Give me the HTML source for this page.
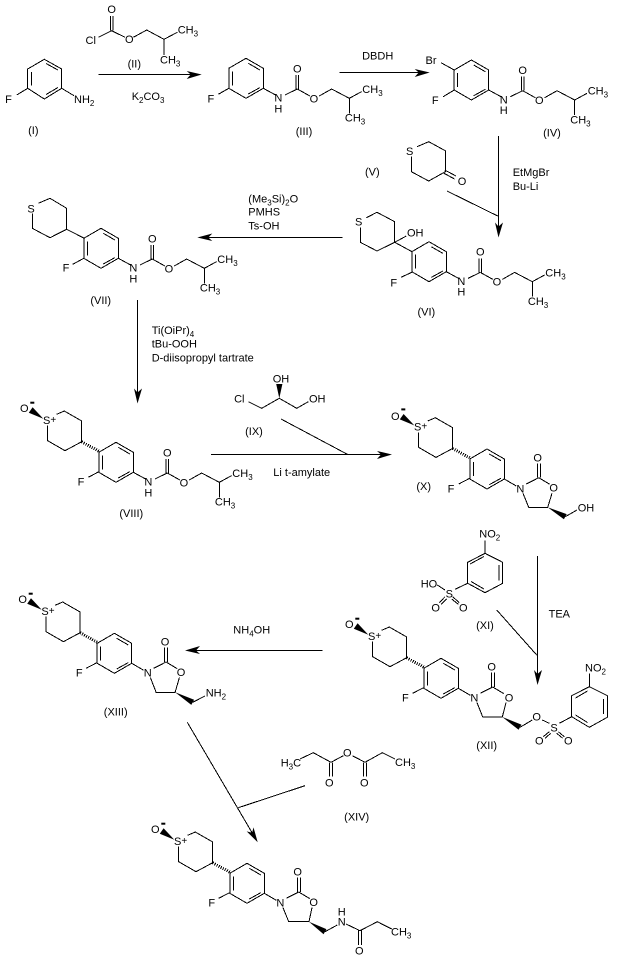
<!DOCTYPE html>
<html>
<head>
<meta charset="utf-8">
<style>
html,body{margin:0;padding:0;background:#fff;width:617px;height:963px;overflow:hidden}
svg{display:block}
path.b{fill:none;stroke:#000;stroke-width:1;shape-rendering:crispEdges}
path.f{fill:#000;stroke:none}
path.h{fill:none;stroke:#000;stroke-width:3;stroke-dasharray:1 1.3;shape-rendering:crispEdges}
text{font-family:"Liberation Sans",sans-serif;font-size:11px;fill:#000}
text.m{text-anchor:middle}
tspan.s{font-size:8px}
</style>
</head>
<body>
<svg width="617" height="963" viewBox="0 0 617 963" xmlns="http://www.w3.org/2000/svg">

<!-- I -->
<path class="b" d="M61.7 88.3V69L44.3 59.3L27.7 69V88.3L44.3 99ZM31.5 72V85.5M46 63.5L58 70M46 94.5L58 87.5M16.7 95L27.7 88.3M61.7 88.3L74 95.7"/>
<text class="m" x="8.5" y="103">F</text>
<text x="74" y="103">NH<tspan class="s" dy="3">2</tspan></text>
<text class="m" x="33.3" y="134">(I)</text>

<!-- II -->
<path class="b" d="M110.3 16V30.7M113.2 16V30.7M98.3 37.3L111.7 30.7L125 37.3M133.3 37.3L146.7 30L164 39.3L177.3 32.3M164 39.3V55"/>
<text class="m" x="111.7" y="13">O</text>
<text class="m" x="90.7" y="44">Cl</text>
<text class="m" x="129.3" y="43">O</text>
<text x="177.7" y="33.3">CH<tspan class="s" dy="3">3</tspan></text>
<text x="160" y="63.3">CH<tspan class="s" dy="3">3</tspan></text>
<text class="m" x="134.3" y="67.3">(II)</text>

<!-- arrow 1 -->
<path class="b" d="M98.3 74.5H196"/>
<path class="f" d="M201.7 74.5L186.7 71L190.7 74.5L186.7 79Z"/>
<text x="131.7" y="100">K<tspan class="s" dy="3">2</tspan><tspan dy="-3">CO</tspan><tspan class="s" dy="3">3</tspan></text>

<!-- III -->
<g transform="translate(263.3,88.3)">
<path class="b" d="M0 0V-20L-17.3-30L-34.5-20V0L-17.3 10ZM-31-17V-3M-15-25L-3.4-18.3M-15 5.7L-3.4-.7"/>
<path class="b" d="M0 0L12.3 6.7M21.6 6.7L34 .7M32.6 .7V-13.3M35.4 .7V-13.3M34 .7L46.6 7.7M56 7.7L68.3 .7L86 10L98.3 3.3M86 10V25M-45 6L-34.5 0"/>
<text class="m" x="15" y="13.3">N</text><text class="m" x="15" y="24">H</text>
<text class="m" x="34" y="-16">O</text><text class="m" x="50.6" y="14">O</text>
<text x="99" y="4.7">CH<tspan class="s" dy="3">3</tspan></text>
<text x="81.6" y="33.3">CH<tspan class="s" dy="3">3</tspan></text>
<text class="m" x="-52.5" y="14">F</text>
<text class="m" x="40.7" y="46.7">(III)</text>
</g>

<!-- arrow 2 -->
<path class="b" d="M339.3 72.5H424"/>
<path class="f" d="M429.7 72.5L414.7 69L418.7 72.5L414.7 77Z"/>
<text class="m" x="377.7" y="59.3">DBDH</text>

<!-- IV -->
<g transform="translate(488.7,90)">
<path class="b" d="M0 0V-20L-17.3-30L-34.5-20V0L-17.3 10ZM-31-17V-3M-15-25L-3.4-18.3M-15 5.7L-3.4-.7"/>
<path class="b" d="M0 0L12.3 6.7M21.6 6.7L34 .7M32.6 .7V-13.3M35.4 .7V-13.3M34 .7L46.6 7.7M56 7.7L68.3 .7L86 10L98.3 3.3M86 10V25M-45.5 6.7L-34.5 0M-47.7-27.3L-34.5-20"/>
<text class="m" x="15" y="13.3">N</text><text class="m" x="15" y="24">H</text>
<text class="m" x="34" y="-16">O</text><text class="m" x="50.6" y="14">O</text>
<text x="99" y="4.7">CH<tspan class="s" dy="3">3</tspan></text>
<text x="81.6" y="33.3">CH<tspan class="s" dy="3">3</tspan></text>
<text class="m" x="-53.4" y="14">F</text>
<text class="m" x="-57.7" y="-26">Br</text>
<text class="m" x="63.3" y="46.7">(IV)</text>
</g>

<!-- V -->
<path class="b" d="M417 146.7L428.7 141.7L445.3 150.7V171.7L428.7 181L411.3 171.7V156.7M444.7 170L456 176M443.5 173L454.5 179"/>
<text class="m" x="409.7" y="155">S</text>
<text class="m" x="462" y="185">O</text>
<text class="m" x="372.3" y="175.7">(V)</text>

<!-- arrow 3 -->
<path class="b" d="M498.5 136V232M447 191L497.7 216"/>
<path class="f" d="M498.5 237.5L495 222.5L498.5 226.5L503 222.5Z"/>
<text x="512.7" y="176">EtMgBr</text>
<text x="512.7" y="190">Bu-Li</text>

<!-- VI -->
<path class="b" d="M366.3 217.7L377 212.3L394.7 221.7V242.3L377 251L360.3 242.3V227.3M394.7 242.3L406.3 236M394.7 242.3L412 251.7"/>
<text class="m" x="358.7" y="225.7">S</text>
<text x="407" y="236.3">OH</text>
<g transform="translate(446.3,271.7)">
<path class="b" d="M0 0V-20L-17.3-30L-34.5-20V0L-17.3 10ZM-31-17V-3M-15-25L-3.4-18.3M-15 5.7L-3.4-.7"/>
<path class="b" d="M0 0L12.3 6.7M21.6 6.7L34 .7M32.6 .7V-13.3M35.4 .7V-13.3M34 .7L46.6 7.7M56 7.7L68.3 .7L86 10L98.3 3.3M86 10V25M-45.3 5.6L-34.5 .6"/>
<text class="m" x="15" y="13.3">N</text><text class="m" x="15" y="24">H</text>
<text class="m" x="34" y="-16">O</text><text class="m" x="50.6" y="14">O</text>
<text x="99" y="4.7">CH<tspan class="s" dy="3">3</tspan></text>
<text x="81.6" y="33.3">CH<tspan class="s" dy="3">3</tspan></text>
<text class="m" x="-52.6" y="14.6">F</text>
<text class="m" x="-20" y="44">(VI)</text>
</g>

<!-- arrow VI to VII -->
<path class="b" d="M342.7 237.5H203"/>
<path class="f" d="M197.3 237.5L212.3 233.5L208.3 237.5L212.3 241Z"/>
<text x="248.3" y="202.3">(Me<tspan class="s" dy="3">3</tspan><tspan dy="-3">Si)</tspan><tspan class="s" dy="3">2</tspan><tspan dy="-3">O</tspan></text>
<text x="248.3" y="215.7">PMHS</text>
<text x="248.3" y="229.7">Ts-OH</text>

<!-- VII -->
<path class="b" d="M38.3 203.3L50 198.3L66.7 208.3V229.3L50 237.7L32.3 228.3V213.3M66.7 229.3L84.3 238.3"/>
<text class="m" x="31" y="212.3">S</text>
<g transform="translate(118.3,258.3)">
<path class="b" d="M0 0V-20L-17.3-30L-34.5-20V0L-17.3 10ZM-31-17V-3M-15-25L-3.4-18.3M-15 5.7L-3.4-.7"/>
<path class="b" d="M0 0L12.3 6.7M21.6 6.7L34 .7M32.6 .7V-13.3M35.4 .7V-13.3M34 .7L46.6 7.7M56 7.7L68.3 .7L86 10L98.3 3.3M86 10V25M-45.6 6L-34.5 0"/>
<text class="m" x="15" y="13.3">N</text><text class="m" x="15" y="24">H</text>
<text class="m" x="34" y="-16">O</text><text class="m" x="50.6" y="14">O</text>
<text x="99" y="4.7">CH<tspan class="s" dy="3">3</tspan></text>
<text x="81.6" y="33.3">CH<tspan class="s" dy="3">3</tspan></text>
<text class="m" x="-52.3" y="13.4">F</text>
<text class="m" x="-17.6" y="45.7">(VII)</text>
</g>

<!-- arrow VII to VIII -->
<path class="b" d="M137.5 300V398"/>
<path class="f" d="M137.5 403.5L134 388.5L137.5 392.5L142 388.5Z"/>
<text x="151.7" y="334">Ti(OiPr)<tspan class="s" dy="3">4</tspan></text>
<text x="151.7" y="347.3">tBu-OOH</text>
<text x="151.7" y="361.3">D-diisopropyl tartrate</text>

<!-- VIII -->
<g transform="translate(133.3,472.3)">
<path class="b" d="M0 0V-20L-17.3-30L-34.5-20V0L-17.3 10ZM-31-17V-3M-15-25L-3.4-18.3M-15 5.7L-3.4-.7"/>
<path class="b" d="M-76.6-58L-69-61.3L-51.6-51.3V-30.6L-68.3-21.6L-85.6-31.6V-46.6"/>
<path class="f" d="M-90-53.6L-104.5-59.6L-100.7-65Z"/>
<rect x="-103" y="-70.6" width="4" height="2" fill="#000"/>
<path class="h" d="M-51.6-30.6L-34.3-21"/>
<text class="m" x="-109" y="-60.5">O</text><text class="m" x="-86.6" y="-48.3">S</text><text class="m" x="-80" y="-49.5" style="font-size:10px">+</text>
<path class="b" d="M0 0L12.3 6.7M21.6 6.7L34 .7M32.6 .7V-13.3M35.4 .7V-13.3M34 .7L46.6 7.7M56 7.7L68.3 .7L86 10L98.3 3.3M86 10V25M-45 5L-34.5-.6"/>
<text class="m" x="15" y="13.3">N</text><text class="m" x="15" y="24">H</text>
<text class="m" x="34" y="-16">O</text><text class="m" x="50.6" y="14">O</text>
<text x="99" y="4.7">CH<tspan class="s" dy="3">3</tspan></text>
<text x="81.6" y="33.3">CH<tspan class="s" dy="3">3</tspan></text>
<text class="m" x="-52.3" y="13">F</text>
<text class="m" x="-2" y="44.7">(VIII)</text>
</g>

<!-- IX -->
<path class="b" d="M248.3 401.7L261.7 408.3L279.3 398.3L296.7 408.3L308.3 401.7"/>
<path class="f" d="M279.3 398.3L276.2 384H282.4Z"/>
<text class="m" x="281" y="382.3">OH</text>
<text class="m" x="239.3" y="402.3">Cl</text>
<text x="309" y="402.3">OH</text>
<text class="m" x="254" y="435">(IX)</text>

<!-- arrow VIII to X -->
<path class="b" d="M211 454.5H386M281 419L347.7 454.5"/>
<path class="f" d="M392 454.5L377 451L381 454.5L377 459Z"/>
<text x="273.3" y="476">Li t-amylate</text>

<!-- X -->
<g transform="translate(504.3,479)">
<path class="b" d="M0 0V-20L-17.3-30L-34.5-20V0L-17.3 10ZM-31-17V-3M-15-25L-3.4-18.3M-15 5.7L-3.4-.7"/>
<path class="b" d="M-76.6-58L-69-61.3L-51.6-51.3V-30.6L-68.3-21.6L-85.6-31.6V-46.6"/>
<path class="f" d="M-90-53.6L-104.5-59.6L-100.7-65Z"/>
<rect x="-103" y="-70.6" width="4" height="2" fill="#000"/>
<path class="h" d="M-51.6-30.6L-34.3-21"/>
<text class="m" x="-109" y="-59">O</text><text class="m" x="-86.6" y="-48.3">S</text><text class="m" x="-80" y="-49.5" style="font-size:10px">+</text>
<path class="b" d="M0 0L12 7M22 5L34.4-1.3M33-1.3V-15.7M36-1.3V-15.7M34.4-1.3L45.4 5.3M47.7 14.3L43.4 28.3H24.4L18.7 14.3M-45.6 5L-34.6-.7M61 37.7L72.7 31"/>
<path class="f" d="M43.4 28.3L62.4 35.1L59.6 40.3Z"/>
<text class="m" x="16" y="13.3">N</text><text class="m" x="33.4" y="-17.7">O</text><text class="m" x="49.4" y="12.7">O</text>
<text x="73.4" y="32.3">OH</text>
<text class="m" x="-53.3" y="13.3">F</text>
<text class="m" x="-80.6" y="11">(X)</text>
</g>

<!-- XI -->
<path class="b" d="M485 553.3L502.7 562.3V583.3L485 592.7L467.7 583.3V562.3ZM470 564L484 556.5M499 565V580.5M471 581.5L484 589M485 553.3V540.7M455 589.3L467.7 583.3M437.3 585L445 590M445 596.7L439.3 602.7M446.7 599L441 604.3M452.7 596.7L459.3 602.7M451.7 599L458.3 604.3"/>
<text x="479.3" y="537.3">NO<tspan class="s" dy="3">2</tspan></text>
<text class="m" x="449.3" y="597.3">S</text>
<text x="420.7" y="587.3">HO</text>
<text class="m" x="435.7" y="611.3">O</text>
<text class="m" x="463.3" y="611.3">O</text>
<text class="m" x="485" y="629">(XI)</text>

<!-- arrow XI to XII -->
<path class="b" d="M537.5 556V679M496.7 610L536.7 655"/>
<path class="f" d="M537.5 685L534 670L537.5 674L542 670Z"/>
<text class="m" x="559.3" y="617.3">TEA</text>

<!-- XII -->
<g transform="translate(458.3,688.3)">
<path class="b" d="M0 0V-20L-17.3-30L-34.5-20V0L-17.3 10ZM-31-17V-3M-15-25L-3.4-18.3M-15 5.7L-3.4-.7"/>
<path class="b" d="M-76.6-58L-69-61.3L-51.6-51.3V-30.6L-68.3-21.6L-85.6-31.6V-46.6"/>
<path class="f" d="M-90-53.6L-104.5-59.6L-100.7-65Z"/>
<rect x="-103" y="-70.6" width="4" height="2" fill="#000"/>
<path class="h" d="M-51.6-30.6L-34.3-21"/>
<text class="m" x="-109" y="-60.5">O</text><text class="m" x="-86.6" y="-48.3">S</text><text class="m" x="-80" y="-49.5" style="font-size:10px">+</text>
<path class="b" d="M0 0L12 7M22 5L34.4-1.3M33-1.3V-15.7M36-1.3V-15.7M34.4-1.3L45.4 5.3M47.7 14.3L44 28.7H24.4L18.7 14.3M-45.6 5L-34.6-.7M61.7 39L74 31.7"/>
<path class="f" d="M44 28.7L63.1 36.3L60.3 41.5Z"/>
<text class="m" x="16" y="13.4">N</text><text class="m" x="33.4" y="-17.7">O</text><text class="m" x="50.7" y="13.4">O</text>
<text class="m" x="-53" y="13.4">F</text>
<text class="m" x="28.4" y="60.7">(XII)</text>
</g>
<path class="b" d="M542.3 720L549.3 723.3M559.3 723.3L571.7 716.7M549.3 731.7L543.3 736.7M550.7 733.3L545 738.3M558.3 731.7L564.3 736.7M556.7 733.3L562.7 738.3M571.7 716.7V695.7L589.3 686.7L607.3 695.7V717.3L589.3 727.3ZM575.5 698L587.5 691M603.5 699V714M575.5 715L587.5 722.5M589.3 686.7V673.3"/>
<text class="m" x="536.7" y="720.7">O</text>
<text class="m" x="554" y="731.3">S</text>
<text class="m" x="539.3" y="744.7">O</text>
<text class="m" x="568.3" y="744.7">O</text>
<text x="585" y="671.7">NO<tspan class="s" dy="3">2</tspan></text>

<!-- arrow XII to XIII -->
<path class="b" d="M322.7 650.5H191"/>
<path class="f" d="M185 650.5L200 646L196 650.5L200 654Z"/>
<text x="233.3" y="633.3">NH<tspan class="s" dy="3">4</tspan><tspan dy="-3">OH</tspan></text>

<!-- XIII -->
<g transform="translate(131.7,663.3)">
<path class="b" d="M0 0V-20L-17.3-30L-34.5-20V0L-17.3 10ZM-31-17V-3M-15-25L-3.4-18.3M-15 5.7L-3.4-.7"/>
<path class="b" d="M-76.6-58L-69-61.3L-51.6-51.3V-30.6L-68.3-21.6L-85.6-31.6V-46.6"/>
<path class="f" d="M-90-53.6L-104.5-59.6L-100.7-65Z"/>
<rect x="-103" y="-70.6" width="4" height="2" fill="#000"/>
<path class="h" d="M-51.6-30.6L-34.3-21"/>
<text class="m" x="-109" y="-60.5">O</text><text class="m" x="-86.6" y="-48.3">S</text><text class="m" x="-80" y="-49.5" style="font-size:10px">+</text>
<path class="b" d="M0 0L12 7M22 5L34.4-1.3M33-1.3V-15.7M36-1.3V-15.7M34.4-1.3L45.4 5.3M47.7 14.3L43.4 29H24.4L18.7 14.3M-45.6 5L-34.6-.7M61 39L73.3 32.7"/>
<path class="f" d="M43.4 29L62.4 36.4L59.6 41.6Z"/>
<text class="m" x="16" y="13.3">N</text><text class="m" x="33.4" y="-17.7">O</text><text class="m" x="49.4" y="12.7">O</text>
<text x="74" y="33.4">NH<tspan class="s" dy="3">2</tspan></text>
<text class="m" x="-52.5" y="13">F</text>
<text class="m" x="-16" y="52.4">(XIII)</text>
</g>

<!-- XIV -->
<path class="b" d="M300 759L313.3 752.7L331 762.3L343.3 755.7M352.3 755.7L365 762.3L382.3 752.7L395 759M329.5 762.3V776.7M332.3 762.3V776.7M363.5 762.3V776.7M366.3 762.3V776.7"/>
<text x="280.7" y="766.3">H<tspan class="s" dy="3">3</tspan><tspan dy="-3">C</tspan></text>
<text class="m" x="347.3" y="756.3">O</text>
<text class="m" x="329.3" y="786.3">O</text>
<text class="m" x="364.3" y="786.3">O</text>
<text x="395" y="766">CH<tspan class="s" dy="3">3</tspan></text>
<text class="m" x="356.7" y="820.7">(XIV)</text>

<!-- arrow XIII to final -->
<path class="b" d="M187.3 722.3L254 836M305 785.7L238.3 807.7"/>
<path class="f" d="M257.7 842.3L246.7 831.4L252.1 832.8L253.5 827.4Z"/>

<!-- final -->
<g transform="translate(264.3,893.3)">
<path class="b" d="M0 0V-20L-17.3-30L-34.5-20V0L-17.3 10ZM-31-17V-3M-15-25L-3.4-18.3M-15 5.7L-3.4-.7"/>
<path class="b" d="M-76.6-58L-69-61.3L-51.6-51.3V-30.6L-68.3-21.6L-85.6-31.6V-46.6"/>
<path class="f" d="M-90-53.6L-104.5-59.6L-100.7-65Z"/>
<rect x="-103" y="-70.6" width="4" height="2" fill="#000"/>
<path class="h" d="M-51.6-30.6L-34.3-21"/>
<text class="m" x="-109" y="-60.5">O</text><text class="m" x="-86.6" y="-48.3">S</text><text class="m" x="-80" y="-49.5" style="font-size:10px">+</text>
<path class="b" d="M0 0L12 7M22 5L34.4-1.3M33-1.3V-15.7M36-1.3V-15.7M34.4-1.3L45.4 5.3M47.7 14.3L44.7 28.4H24.4L18.7 14.3M-45.6 5L-34.6-.7M60.7 38.4L73 31.7"/>
<path class="f" d="M44.7 28.4L62.1 35.8L59.3 41Z"/>
<text class="m" x="16" y="13.3">N</text><text class="m" x="33.4" y="-17.7">O</text><text class="m" x="49.4" y="12.7">O</text>
<text class="m" x="-52.6" y="13">F</text>
</g>
<path class="b" d="M346 924L360 930.7L377.3 921.7L391.7 929M358.7 930.7V945M361.3 930.7V945"/>
<text class="m" x="341.7" y="925.7">N</text>
<text class="m" x="341.7" y="915.7">H</text>
<text class="m" x="359.3" y="954.7">O</text>
<text x="391" y="935.7">CH<tspan class="s" dy="3">3</tspan></text>

</svg>
</body>
</html>
